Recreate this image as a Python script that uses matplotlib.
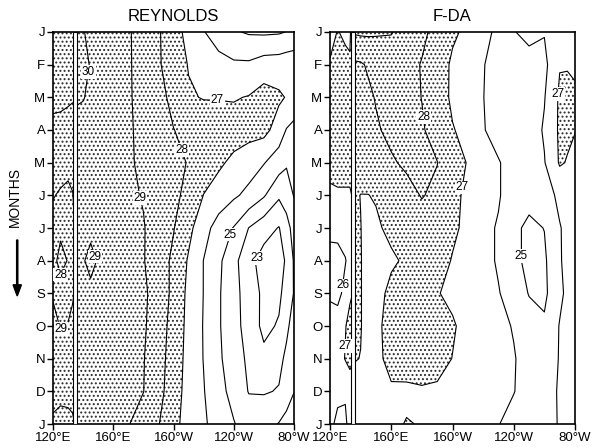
import numpy as np
import matplotlib
matplotlib.use('Agg')
import matplotlib.pyplot as plt

plt.rcParams['font.family'] = ['Liberation Sans', 'DejaVu Sans']
plt.rcParams['hatch.color'] = '#2a2a2a'
plt.rcParams['hatch.linewidth'] = 0.9

# longitude grid (degrees east) and month rows (Jan at top .. Jan at bottom)
lon = [120, 125, 130, 133, 136, 140, 145, 150, 160, 170, 180, 190,
       200, 210, 220, 230, 240, 250, 260, 270, 275, 280]
months = ['J', 'F', 'M', 'A', 'M', 'J', 'J', 'A', 'S', 'O', 'N', 'D', 'J']
lon_ticks = [120, 160, 200, 240, 280]
lon_labels = ['120°E', '160°E', '160°W', '120°W', '80°W']
levels = [23, 24, 25, 26, 27, 28, 29, 30]

# SST, one row per month
reynolds = [
    [30.3, 30.3, 30.3, 30.3, 30.3, 30.05, 29.8, 29.65, 29.35, 29.1, 28.6, 28.1, 27.4, 26.7, 26.05, 25.5, 25.1, 24.9, 24.85, 24.9, 25.02, 25.1],
    [30.35, 30.35, 30.35, 30.35, 30.35, 30.2, 29.95, 29.75, 29.4, 29.1, 28.65, 28.1, 27.55, 26.95, 26.6, 26.35, 26.15, 26.15, 26.45, 26.5, 26.6, 26.7],
    [30.25, 30.2, 30.1, 30.05, 30.08, 30.04, 29.85, 29.65, 29.35, 29.1, 28.7, 28.3, 27.75, 27.1, 26.95, 26.95, 26.93, 27.05, 27.4, 27.15, 26.95, 26.7],
    [29.75, 29.75, 29.75, 29.75, 29.75, 29.7, 29.6, 29.5, 29.3, 29.1, 28.8, 28.4, 28.02, 27.75, 27.6, 27.5, 27.4, 27.35, 27.3, 26.55, 25.95, 25.7],
    [29.4, 29.35, 29.25, 29.35, 29.6, 29.6, 29.5, 29.45, 29.3, 29.1, 28.85, 28.55, 28.25, 27.95, 27.5, 27.15, 26.8, 26.45, 26.05, 25.5, 25.1, 25.25],
    [29.05, 28.9, 28.8, 28.95, 29.5, 29.5, 29.45, 29.4, 29.3, 29.15, 28.95, 28.6, 28.25, 27.7, 26.98, 26.6, 26.15, 25.75, 25.1, 24.15, 24.5, 25.05],
    [28.7, 28.2, 28.5, 28.7, 29.4, 29.35, 29.3, 29.3, 29.25, 29.2, 29.05, 28.6, 28.05, 27.25, 26.4, 25.55, 24.95, 23.98, 23.4, 22.95, 23.6, 24.4],
    [28.3, 27.7, 28.05, 28.6, 29.35, 29.1, 28.65, 29.1, 29.25, 29.2, 29.05, 28.5, 27.8, 26.9, 25.98, 25.2, 24.3, 23.3, 22.6, 22.7, 23.1, 24.1],
    [28.9, 28.4, 28.65, 28.85, 29.35, 29.3, 29.3, 29.3, 29.3, 29.25, 29.2, 28.5, 27.8, 26.75, 25.98, 25.1, 24.35, 23.5, 22.8, 22.8, 23.4, 24.05],
    [29.3, 28.95, 29.05, 29.3, 29.45, 29.4, 29.35, 29.35, 29.3, 29.25, 29.15, 28.4, 27.7, 26.7, 25.95, 25.1, 24.35, 23.6, 22.75, 23.1, 23.85, 24.3],
    [29.4, 29.4, 29.4, 29.4, 29.4, 29.4, 29.35, 29.3, 29.3, 29.2, 29.05, 28.35, 27.6, 26.65, 25.97, 25.15, 24.5, 23.8, 23.25, 23.8, 24.15, 24.6],
    [29.7, 29.8, 29.8, 29.7, 29.6, 29.55, 29.5, 29.45, 29.35, 29.2, 29.02, 28.3, 27.5, 26.6, 26.05, 25.3, 24.7, 23.95, 23.93, 24.05, 24.55, 24.98],
    [30.15, 30.25, 30.2, 30.15, 29.8, 29.75, 29.65, 29.55, 29.4, 29.05, 28.55, 28.05, 27.25, 26.65, 26.15, 25.55, 25.05, 24.6, 24.6, 25.05, 25.3, 25.5],
]

# SST
fda = [
    [26.6, 27.05, 26.8, 26.7, 29.1, 29.15, 29.15, 29.1, 29.05, 28.6, 28.2, 27.7, 27.15, 26.8, 26.2, 25.85, 25.95, 26.3, 26.05, 26.2, 26.3, 26.3],
    [27.1, 27.4, 27.3, 27.2, 27.85, 27.9, 28.1, 28.35, 28.5, 28.3, 27.95, 27.5, 26.85, 26.6, 26.05, 25.6, 25.5, 25.6, 25.75, 26.95, 26.95, 26.85],
    [27.3, 27.4, 27.35, 27.3, 27.6, 27.7, 27.85, 28.05, 28.4, 28.35, 27.98, 27.45, 26.85, 26.5, 26.02, 25.6, 25.4, 25.5, 25.95, 27.15, 27.2, 27.15],
    [27.3, 27.4, 27.4, 27.35, 27.5, 27.6, 27.75, 27.9, 28.2, 28.3, 28.1, 27.6, 27.05, 26.75, 26.05, 25.7, 25.4, 25.5, 26.1, 27.15, 27.15, 27.05],
    [27.25, 27.3, 27.3, 27.3, 27.4, 27.5, 27.6, 27.7, 27.9, 28.15, 28.3, 28.02, 27.4, 26.95, 26.45, 26.05, 25.7, 25.6, 25.95, 27.1, 26.95, 26.6],
    [26.85, 26.9, 26.9, 26.9, 27.15, 26.98, 26.98, 27.1, 27.4, 27.7, 28.05, 27.8, 27.25, 26.8, 26.4, 26.1, 25.4, 25.3, 25.6, 26.2, 26.4, 26.5],
    [26.3, 26.3, 26.4, 26.6, 27.1, 27.02, 26.7, 26.8, 27.3, 27.5, 27.6, 27.5, 27.15, 26.8, 26.3, 25.9, 25.2, 24.8, 25.02, 25.95, 26.2, 26.4],
    [25.6, 25.65, 25.95, 26.3, 27.1, 27.05, 26.6, 26.5, 26.8, 27.2, 27.4, 27.35, 26.95, 26.7, 26.3, 25.9, 25.3, 24.7, 24.85, 25.9, 26.3, 26.45],
    [25.9, 25.7, 26.3, 26.85, 27.1, 27.05, 26.6, 26.5, 27.35, 27.5, 27.45, 27.05, 26.8, 26.6, 26.3, 26.05, 25.6, 24.95, 24.8, 25.8, 26.2, 26.4],
    [26.3, 26.5, 26.95, 27.3, 27.1, 27.05, 26.6, 26.75, 27.4, 27.6, 27.55, 27.4, 27.1, 26.7, 26.45, 26.2, 25.95, 25.45, 25.15, 26.05, 26.2, 26.35],
    [26.4, 26.55, 27.05, 27.3, 27.05, 26.98, 26.6, 26.7, 27.35, 27.5, 27.45, 27.35, 26.98, 26.7, 26.5, 26.3, 26.05, 25.7, 25.5, 26.05, 26.2, 26.35],
    [26.3, 26.15, 26.1, 26.4, 26.6, 26.5, 26.45, 26.5, 26.85, 26.8, 26.9, 26.85, 26.7, 26.55, 26.4, 26.25, 26.02, 25.75, 25.6, 26.1, 26.25, 26.35],
    [26.15, 25.85, 25.85, 26.3, 26.5, 26.45, 26.4, 26.45, 26.8, 27.05, 26.95, 26.8, 26.6, 26.45, 26.25, 26.02, 25.8, 25.6, 25.5, 26.1, 26.2, 26.3],
]

# where the contour numbers sit (lon, month)
reynolds_labels = [(146.5, 1.25), (229, 2.1), (206, 3.6), (180, 5.05), (237.5, 6.2),
                   (254, 6.9), (153, 6.8), (126, 7.45), (125.5, 9.1)]
fda_labels = [(181.5, 2.6), (205.5, 4.75), (267.5, 1.9), (245.5, 6.85),
              (127, 7.75), (128, 9.6)]

# land strip drawn as a blank band
reynolds_strip = (133.1, 135.7)
fda_strip = (133.7, 136.4)


def draw_panel(ax, sst, title, strip, label_pos):
    z = np.array(sst)
    t = np.arange(len(months))
    ax.contourf(lon, t, z, levels=[27, 31], colors='none', hatches=['....'])
    cs = ax.contour(lon, t, z, levels=levels, colors='black', linewidths=0.8)
    labs = ax.clabel(cs, inline=False, fmt='%d', fontsize=8.5, manual=label_pos)
    for lb in labs:
        lb.set_rotation(0)
        lb.set_bbox(dict(facecolor='white', edgecolor='none', pad=0.6))
        lb.set_zorder(4)
    ax.axvspan(strip[0], strip[1], facecolor='white', edgecolor='black',
               linewidth=0.8, zorder=3)

    ax.set_xlim(120, 280)
    ax.set_ylim(12, 0)
    ax.set_xticks(lon_ticks)
    ax.set_xticklabels(lon_labels)
    ax.set_yticks(t)
    ax.set_yticklabels(months)
    ax.tick_params(direction='out', length=4, width=1, labelsize=9.5, pad=1.5)
    for sp in ax.spines.values():
        sp.set_linewidth(1.2)
    ax.set_title(title, fontsize=12, pad=8)


fig = plt.figure(figsize=(5.94, 4.48), dpi=100)
ax1 = fig.add_axes([53 / 594, 24 / 448, 241 / 594, 392 / 448])
ax2 = fig.add_axes([330 / 594, 24 / 448, 245 / 594, 392 / 448])

draw_panel(ax1, reynolds, 'REYNOLDS', reynolds_strip, reynolds_labels)
draw_panel(ax2, fda, 'F-DA', fda_strip, fda_labels)

fig.text(0.025, 0.56, 'MONTHS', rotation=90, ha='center', va='center', fontsize=10)
fig.patches.append(matplotlib.patches.FancyArrow(
    0.029, 1 - 240 / 448, 0, -0.1, width=0.002, head_width=0.014,
    head_length=0.025, color='black', transform=fig.transFigure, figure=fig))

fig.savefig('out.png', dpi=100)
